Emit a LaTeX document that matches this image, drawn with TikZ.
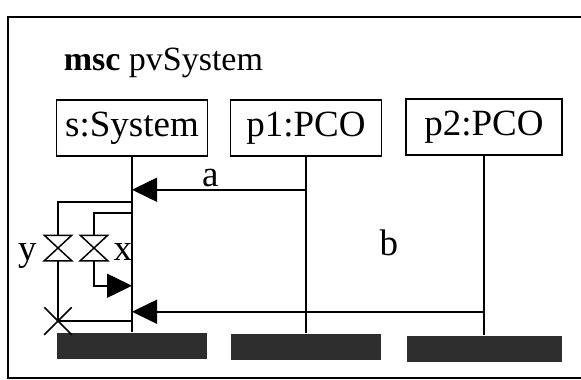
\documentclass[tikz,border=0pt]{standalone}
\usepackage{fontspec}
\setmainfont{Liberation Serif}
\usepackage{xcolor}
\definecolor{barink}{HTML}{2E2E2E}
\usepackage{tikz}
\usetikzlibrary{arrows.meta, positioning, calc, shapes.misc}

\begin{document}
\begin{tikzpicture}[x=1pt, y=-1pt, line width=1.5pt,
  every node/.style={font=\fontsize{37}{42}\selectfont, inner sep=2pt},
  inst/.style={draw, minimum width=151pt, minimum height=56pt, inner sep=0pt},
  endbar/.style={fill=barink, minimum width=150pt, minimum height=26pt, inner sep=0pt},
  glass/.style={minimum width=26pt, minimum height=24pt, inner sep=0pt},
  msg/.style={-{Triangle[length=25pt, width=24pt]}}]
  \useasboundingbox (0,0) rectangle (581,380);

  % frame and title
  \draw (581,17) -| (8,378) -- (581,378);
  \node[anchor=base west, font=\fontsize{34}{40}\selectfont] (title) at (61,70)
        {\textbf{msc} pvSystem};

  % instances
  \node[inst] (s) at (132,128) {s:System};
  \node[inst] (p1) at (306,128) {p1:PCO};
  \node[inst, minimum width=156pt] (p2) at (484,127) {p2:PCO};

  % end bars
  \node[endbar] (sEnd) at (132,346) {};
  \node[endbar] (p1End) at (306,347) {};
  \node[endbar, minimum width=155pt] (p2End) at (484,349) {};

  \draw (s) -- (sEnd);
  \draw (p1) -- (p1End);
  \draw (p2) -- (p2End);

  % messages
  \path (p1.south) ++(0,33) coordinate (aFrom);
  \path (p2.south) ++(0,156) coordinate (bFrom);
  \draw[msg] (aFrom) -- (aFrom -| s.south) node[pos=0.55, above] (aLbl) {a};
  \draw[msg] (bFrom) -- (bFrom -| s.south)
        node[pos=0.27, yshift=69pt] (bLbl) {b};

  % timers
  \node[glass] (yT) at (58,248) {};
  \node[glass] (xT) at (94,248) {};
  \draw (yT.north west) -- (yT.north east) -- (yT.south west) -- (yT.south east) -- cycle;
  \draw (xT.north west) -- (xT.north east) -- (xT.south west) -- (xT.south east) -- cycle;
  \node[anchor=base east] (yLbl) at ([xshift=-5pt]yT.south west) {y};
  \node[anchor=base west] (xLbl) at ([xshift=3pt]xT.south east) {x};
  \node[draw, cross out, minimum size=26pt, inner sep=0pt] (yStop) at (58,321) {};

  \path (s.south) ++(0,45) coordinate (ySet);
  \path (s.south) ++(0,56) coordinate (xSet);
  \path (s.south) ++(0,129) coordinate (xOut);
  \draw (ySet) -| (yT.north);
  \draw (yT.south) -- (yStop.center) -- (yStop.center -| s.south);
  \draw (xSet) -| (xT.north);
  \draw[msg] (xT.south) |- (xOut);
\end{tikzpicture}
\end{document}
